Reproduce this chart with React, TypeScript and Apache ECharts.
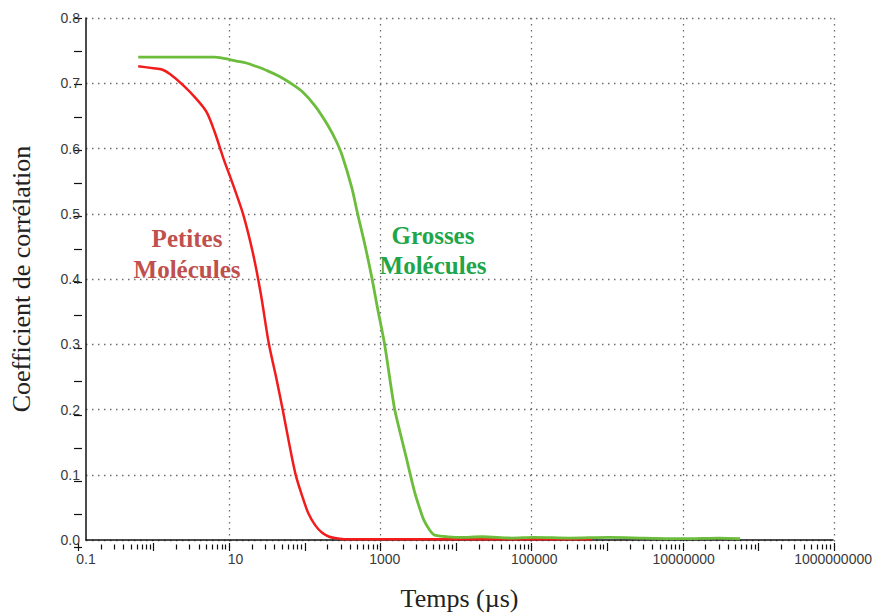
import React, { useEffect, useRef } from "react";
import * as echarts from "echarts";

// Petites molécules (red)
const redTime = [0.5, 0.8, 1.04, 1.33, 2.04, 3.0, 4.1, 5.25, 6.9, 8.3, 9.6, 12.7, 17.2, 21.9, 28, 35, 42.9, 52, 63.7, 78, 94.6, 118, 145, 180, 215, 300, 1000, 5000, 20000, 100000, 600000];
const redValue = [0.726, 0.723, 0.721, 0.714, 0.696, 0.676, 0.656, 0.626, 0.585, 0.56, 0.54, 0.499, 0.439, 0.377, 0.301, 0.25, 0.2, 0.15, 0.101, 0.068, 0.041, 0.022, 0.011, 0.005, 0.003, 0.001, 0.001, 0.001, 0.001, 0.001, 0.001];

// Grosses molécules (green)
const greenTime = [0.5, 2, 5.2, 7, 10.3, 14, 18.8, 27, 37.9, 55, 78.9, 117, 174, 220, 267, 361, 434, 537, 665, 800, 989, 1340, 1600, 1930, 2470, 2900, 3345, 4000, 4530, 5500, 6730, 10000, 20000, 50000, 100000, 300000, 1000000, 3000000, 10000000, 30000000, 57000000];
const greenValue = [0.74, 0.74, 0.74, 0.738, 0.734, 0.731, 0.726, 0.719, 0.711, 0.7, 0.687, 0.665, 0.635, 0.613, 0.59, 0.54, 0.499, 0.454, 0.404, 0.355, 0.301, 0.203, 0.165, 0.127, 0.076, 0.05, 0.03, 0.015, 0.008, 0.006, 0.005, 0.004, 0.005, 0.003, 0.004, 0.003, 0.004, 0.003, 0.002, 0.003, 0.002];

const xLabels = [0.1, 10, 1000, 100000, 10000000, 1000000000];
const xGridLines = [10, 1000, 100000, 10000000, 1000000000];
const decades = [0.1, 1, 10, 100, 1000, 10000, 100000, 1000000, 10000000, 100000000, 1000000000];
const yMin = 0;
const yMax = 0.8;

const minorTicks: number[] = [];
for (let i = 0; i < decades.length - 1; i++) {
  for (let k = 2; k <= 9; k++) minorTicks.push(Number((decades[i] * k).toPrecision(6)));
}

const GRID = { left: 78, right: 41, top: 18, bottom: 69 };

export default function App() {
  const ref = useRef<HTMLDivElement>(null);
  useEffect(() => {
    if (!ref.current) return;
    const chart = echarts.init(ref.current, null, { renderer: "svg" });
    const baseX = { type: "log", logBase: 10, min: 0.1, max: 1e9 };
    const baseY = { type: "value", min: yMin, max: yMax };
    const hidden = { axisLine: { show: false }, axisTick: { show: false }, axisLabel: { show: false }, splitLine: { show: false } };
    const dotted = { color: "#6e6e6e", width: 1.3, type: [1.5, 4.5] };
    const tickStyle = { color: "#111", width: 1.2 };
    const labelFont = { color: "#3a3a3a", fontSize: 14, fontFamily: "Liberation Sans" };
    chart.setOption({
      animation: false,
      backgroundColor: "#fff",
      grid: [0, 1, 2, 3].map(() => ({ ...GRID, containLabel: false })),
      xAxis: [
        {
          ...baseX, gridIndex: 0,
          axisLine: { show: true, onZero: false, lineStyle: { color: "#111", width: 1.5 } },
          axisTick: { show: false },
          axisLabel: {
            customValues: xLabels, margin: 12, ...labelFont,
            formatter: (v: number) => (v < 1 ? "0.1" : String(Math.round(v))),
          },
          splitLine: { show: false },
          name: "Temps (µs)", nameLocation: "middle", nameGap: 45,
          nameTextStyle: { fontFamily: "Liberation Serif", fontSize: 26, color: "#222" },
        },
        {
          ...baseX, gridIndex: 1, offset: -4, ...hidden,
          axisTick: { show: true, customValues: decades, length: 8, lineStyle: tickStyle },
        },
        {
          ...baseX, gridIndex: 2, offset: -2.5, ...hidden,
          axisTick: { show: true, customValues: minorTicks, length: 5, lineStyle: tickStyle },
        },
        {
          ...baseX, gridIndex: 3, ...hidden,
          axisTick: { show: false, customValues: xGridLines },
          splitLine: { show: true, lineStyle: dotted },
        },
      ],
      yAxis: [
        {
          ...baseY, gridIndex: 0, interval: 0.1,
          axisLine: { show: true, lineStyle: { color: "#111", width: 1.5 } },
          axisTick: { show: false },
          axisLabel: { margin: 6, ...labelFont, formatter: (v: number) => v.toFixed(1) },
          splitLine: { show: true, lineStyle: dotted },
          name: "Coefficient de corrélation", nameLocation: "middle", nameGap: 52,
          nameTextStyle: { fontFamily: "Liberation Serif", fontSize: 26, color: "#222" },
        },
        {
          ...baseY, gridIndex: 1, interval: 0.05, offset: -4, ...hidden,
          axisTick: { show: true, length: 8, lineStyle: tickStyle },
        },
        { ...baseY, gridIndex: 2, ...hidden },
        { ...baseY, gridIndex: 3, ...hidden },
      ],
      series: [
        {
          type: "line", xAxisIndex: 0, yAxisIndex: 0, showSymbol: false, symbol: "none", smooth: 0.3,
          data: redTime.map((t, i) => [t, redValue[i]]),
          lineStyle: { color: "#f21c1c", width: 2.5 }, z: 3,
        },
        {
          type: "line", xAxisIndex: 0, yAxisIndex: 0, showSymbol: false, symbol: "none", smooth: 0.3,
          data: greenTime.map((t, i) => [t, greenValue[i]]),
          lineStyle: { color: "#6cbd3c", width: 2.8 }, z: 4,
        },
      ],
      graphic: [
        { type: "text", x: 187, y: 238, style: { text: "Petites", fill: "#c0504d", font: "bold 25px 'Liberation Serif'", align: "center", verticalAlign: "middle" } },
        { type: "text", x: 187, y: 269, style: { text: "Molécules", fill: "#c0504d", font: "bold 25px 'Liberation Serif'", align: "center", verticalAlign: "middle" } },
        { type: "text", x: 433, y: 235, style: { text: "Grosses", fill: "#1fa64a", font: "bold 25px 'Liberation Serif'", align: "center", verticalAlign: "middle" } },
        { type: "text", x: 433, y: 265, style: { text: "Molécules", fill: "#1fa64a", font: "bold 25px 'Liberation Serif'", align: "center", verticalAlign: "middle" } },
      ],
    });
    return () => chart.dispose();
  }, []);
  return <div ref={ref} style={{ width: 875, height: 616, position: "absolute", left: 0, top: 0 }} />;
}
